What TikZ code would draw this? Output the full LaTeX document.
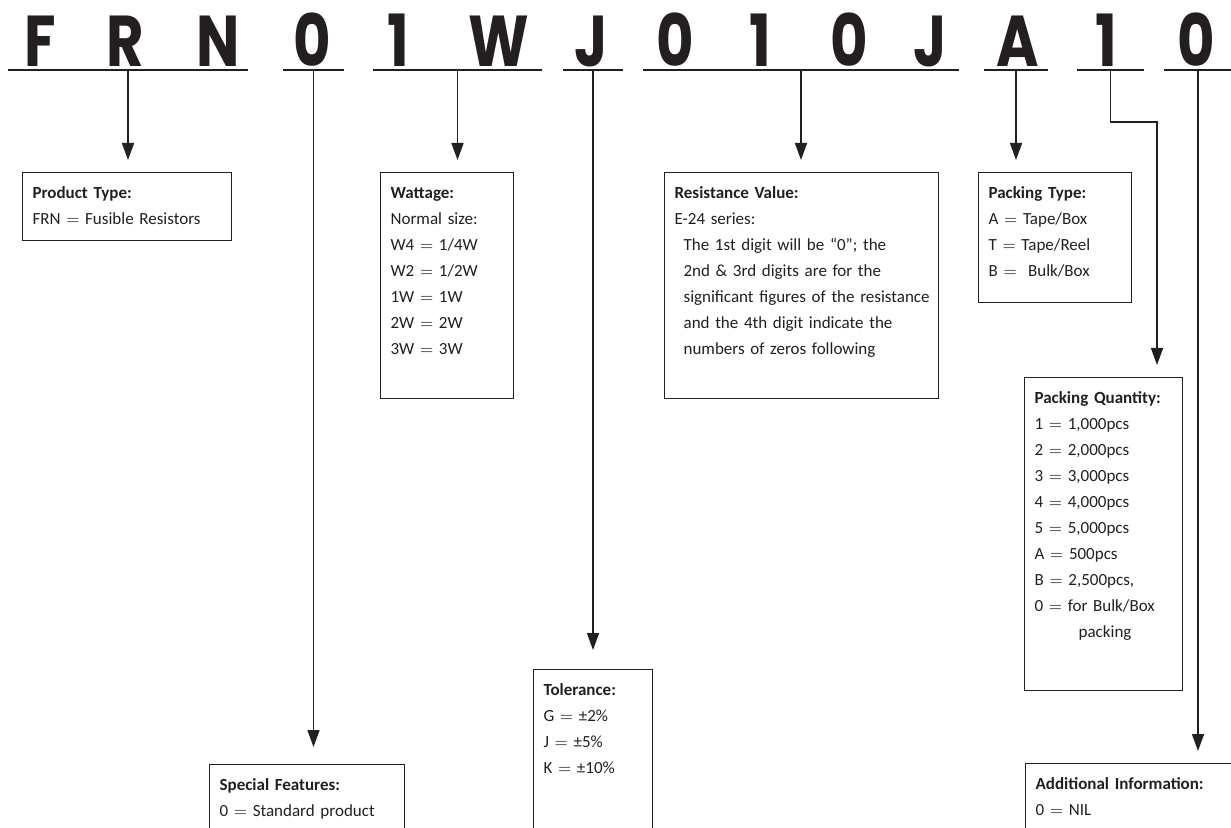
\documentclass[tikz,border=0pt]{standalone}
\usepackage{fontspec}
\setmainfont{Carlito}
\newfontfamily\codefont{Poppins}
\usetikzlibrary{arrows.meta}
\definecolor{ink}{HTML}{231F20}

\begin{document}
\begin{tikzpicture}[x=0.5pt, y=-0.5pt, ink,
    code/.style={anchor=base, inner sep=0pt, font=\codefont\bfseries\fontsize{36}{36}\selectfont},
    info/.style={draw, line width=0.6pt, anchor=north west, align=left, inner xsep=5pt, inner ysep=6.25pt, text height=6.5pt, font=\fontsize{8.5}{13}\selectfont},
    bar/.style={line width=1.4pt},
    stem/.style={line width=0.8pt, -{Triangle[length=8.5pt, width=6pt]}, shorten >=6pt}]
    \useasboundingbox (0,0) rectangle (1231,828);
    \clip (0,0) rectangle (1231,828);

    % part number
    \foreach \ch/\px [count=\i] in {F/40, R/125, N/218, 0/312, 1/398, W/499, J/591, 0/675, 1/760, 0/849, J/930, A/1018, 1/1106, 0/1196}
      \node [code] (c\i) at (\px, 67) {\scalebox{0.8}[1]{\ch}};

    \foreach \a/\b/\nm in {8/248/frn, 283/344/spc, 373/542/watt, 563/623/tol, 643/959/res, 984/1048/ptype, 1077/1144/qty, 1164/1232/add} {
      \draw [bar] (\a,70) -- (\b,70);
      \coordinate (u\nm) at ({(\a+\b)/2},70);
    }
    \coordinate (qbend) at (1157,122);

    \begin{scope}
      \node [info, text width=94.5pt, text depth=15pt] (product) at (22,172) {\textbf{Product Type:}\\FRN $=$ Fusible Resistors};
      \node [info, text width=56.5pt, text depth=94pt] (wattage) at (380,172) {\textbf{Wattage:}\\Normal size:\\W4 $=$ 1/4W\\W2 $=$ 1/2W\\1W $=$ 1W\\2W $=$ 2W\\3W $=$ 3W};
      \node [info, text width=127pt, text depth=94pt] (resist) at (664,172) {\textbf{Resistance Value:}\\E-24 series:\\\hspace*{4.5pt}The 1st digit will be “0”; the\\\hspace*{4.5pt}2nd \& 3rd digits are for the\\\hspace*{4.5pt}\mbox{significant figures of the resistance}\\\hspace*{4.5pt}and the 4th digit indicate the\\\hspace*{4.5pt}numbers of zeros following};
      \node [info, text width=66.5pt, text depth=46pt] (packtype) at (978,172) {\textbf{Packing Type:}\\A $=$ Tape/Box\\T $=$ Tape/Reel\\B $=$ \ Bulk/Box};
      \node [info, text width=69pt, text depth=137.5pt] (packqty) at (1024,377) {\textbf{Packing Quantity:}\\1 $=$ 1,000pcs\\2 $=$ 2,000pcs\\3 $=$ 3,000pcs\\4 $=$ 4,000pcs\\5 $=$ 5,000pcs\\A $=$ 500pcs\\B $=$ 2,500pcs,\\0 $=$ for Bulk/Box\\\hspace*{22pt}packing};
      \node [info, text width=49.5pt, text depth=71.5pt] (toler) at (533,669) {\textbf{Tolerance:}\\G $=$ ±2\%\\J $=$ ±5\%\\K $=$ ±10\%};
      \node [info, text width=87.5pt, text depth=24pt] (special) at (209,764) {\textbf{Special Features:}\\0 $=$ Standard product};
      \node [info, text width=107.5pt, text depth=24.5pt] (addinfo) at (1025,763) {\textbf{Additional Information:}\\0 $=$ NIL};
    \end{scope}

    \begin{scope}[stem]
      \draw (ufrn) -- (ufrn |- product.north);
      \draw [shorten >=8.5pt] (uspc) -- (uspc |- special.north);
      \draw (uwatt) -- (uwatt |- wattage.north);
      \draw [shorten >=9.5pt] (utol) -- (utol |- toler.north);
      \draw (ures) -- (ures |- resist.north);
      \draw (uptype) -- (uptype |- packtype.north);
      \draw (uqty) |- (qbend) -- (qbend |- packqty.north);
      \draw (uadd) -- (uadd |- addinfo.north);
    \end{scope}
\end{tikzpicture}
\end{document}
